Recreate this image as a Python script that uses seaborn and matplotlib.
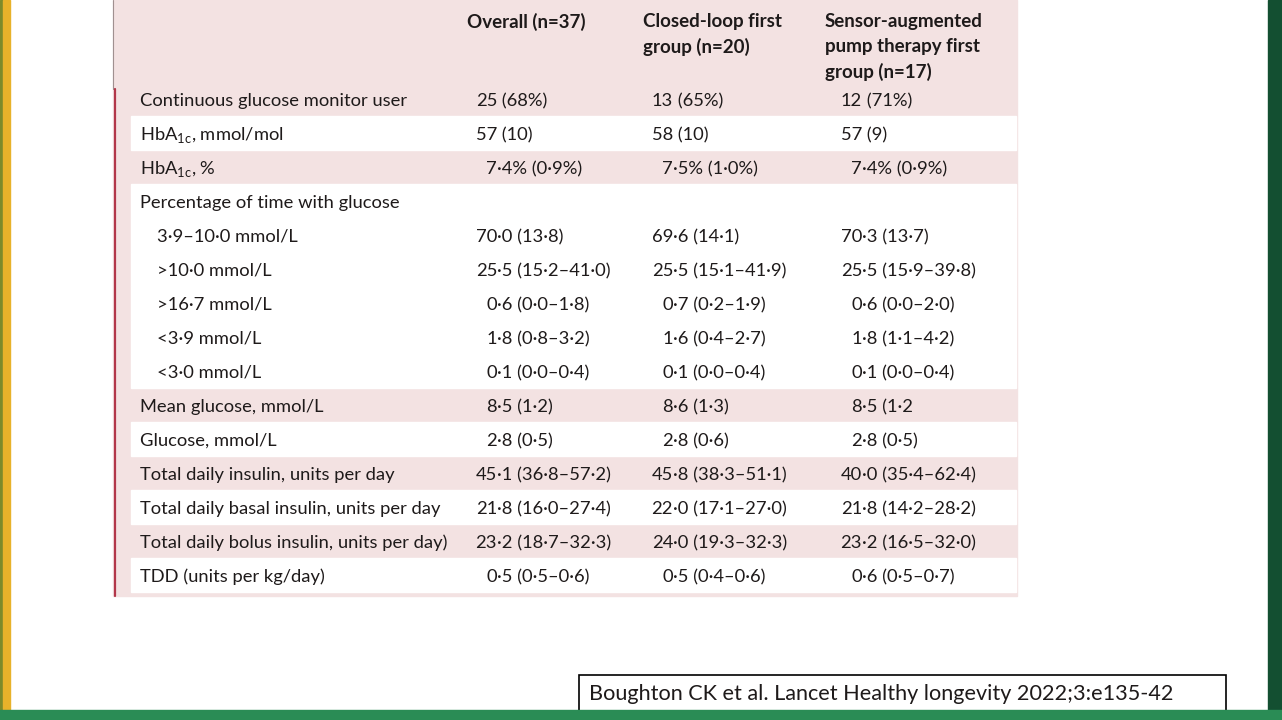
import re

import matplotlib.pyplot as plt
import seaborn as sns
from matplotlib.patches import Rectangle

# Table data (Boughton CK et al. baseline characteristics)
col_headers = ["Overall (n=37)",
               "Closed-loop first\ngroup (n=20)",
               "Sensor-augmented\npump therapy first\ngroup (n=17)"]

row_labels = ["Continuous glucose monitor user",
              "HbA$_\\mathregular{1c}$, mmol/mol",
              "HbA$_\\mathregular{1c}$, %",
              "Percentage of time with glucose",
              "3·9–10·0 mmol/L",
              ">10·0 mmol/L",
              ">16·7 mmol/L",
              "<3·9 mmol/L",
              "<3·0 mmol/L",
              "Mean glucose, mmol/L",
              "Glucose, mmol/L",
              "Total daily insulin, units per day",
              "Total daily basal insulin, units per day",
              "Total daily bolus insulin, units per day)",
              "TDD (units per kg/day)"]

sub_rows = ["3·9–10·0 mmol/L", ">10·0 mmol/L", ">16·7 mmol/L",
            "<3·9 mmol/L", "<3·0 mmol/L"]

overall = ["25 (68%)", "57 (10)", "7·4% (0·9%)", "",
           "70·0 (13·8)", "25·5 (15·2–41·0)", "0·6 (0·0–1·8)",
           "1·8 (0·8–3·2)", "0·1 (0·0–0·4)", "8·5 (1·2)", "2·8 (0·5)",
           "45·1 (36·8–57·2)", "21·8 (16·0–27·4)", "23·2 (18·7–32·3)",
           "0·5 (0·5–0·6)"]

closed_loop = ["13 (65%)", "58 (10)", "7·5% (1·0%)", "",
               "69·6 (14·1)", "25·5 (15·1–41·9)", "0·7 (0·2–1·9)",
               "1·6 (0·4–2·7)", "0·1 (0·0–0·4)", "8·6 (1·3)", "2·8 (0·6)",
               "45·8 (38·3–51·1)", "22·0 (17·1–27·0)", "24·0 (19·3–32·3)",
               "0·5 (0·4–0·6)"]

sap_first = ["12 (71%)", "57 (9)", "7·4% (0·9%)", "",
             "70·3 (13·7)", "25·5 (15·9–39·8)", "0·6 (0·0–2·0)",
             "1·8 (1·1–4·2)", "0·1 (0·0–0·4)", "8·5 (1·2", "2·8 (0·5)",
             "40·0 (35·4–62·4)", "21·8 (14·2–28·2)", "23·2 (16·5–32·0)",
             "0·6 (0·5–0·7)"]

# True = pink band, False = white band
shaded = [True, False, True, False, False, False, False, False, False,
          True, False, True, False, True, False]

citation = "Boughton CK et al. Lancet Healthy longevity 2022;3:e135-42"

sns.set_theme(style="white")
plt.rcParams['font.family'] = ['Lato', 'DejaVu Sans']

PINK = "#f3e2e2"
TXT = "#1e1a1a"

fig = plt.figure(figsize=(12.82, 7.2), dpi=100)
ax = fig.add_axes([0, 0, 1, 1])
ax.set_xlim(0, 1282)
ax.set_ylim(720, 0)
ax.axis('off')

# slide decoration
ax.add_patch(Rectangle((0, 0), 3, 720, color="#7d8a2a", zorder=0))
ax.add_patch(Rectangle((3, 0), 7, 720, color="#e8b22a", zorder=0))
ax.add_patch(Rectangle((1268, 0), 14, 720, color="#134f31", zorder=0))
ax.add_patch(Rectangle((0, 710), 1282, 10, color="#2a8c55", zorder=5))

# table background
top, row_h, x0, x1 = 82, 34, 113, 1017
n = len(row_labels)
ax.add_patch(Rectangle((x0, 0), x1 - x0, top + n * row_h + 4, color=PINK, zorder=1))
ax.plot([113, 113], [0, 89], color="#a09090", lw=0.8, zorder=3)
ax.plot([114.5, 114.5], [89, top + n * row_h + 4], color="#b2374a", lw=1.6, zorder=3)

centers = [top + row_h * (i + 0.5) for i in range(n)]
white_y = [c for c, s in zip(centers, shaded) if not s]
ax.barh(white_y, 885, left=131, height=row_h, color="white", zorder=2)

fs = 13.2
dy = 2
for y, lab in zip(centers, row_labels):
    x = 157 if lab in sub_rows else 140
    ax.text(x, y + dy, lab, fontsize=fs, color=TXT, va='center', ha='left', zorder=4)

# values aligned on the units digit of the leading number
anchors = [497, 673, 862]
for anchor, col in zip(anchors, [overall, closed_loop, sap_first]):
    for y, val in zip(centers, col):
        if not val:
            continue
        m = re.match(r"(\d+)(.*)", val)
        ax.text(anchor, y + dy, m.group(1), fontsize=fs, color=TXT,
                va='center', ha='right', zorder=4)
        ax.text(anchor, y + dy, m.group(2), fontsize=fs, color=TXT,
                va='center', ha='left', zorder=4)

for x, h in zip([467, 643, 825], col_headers):
    ax.text(x, 12.5, h, fontsize=13.5, fontweight='bold', color=TXT,
            va='top', ha='left', linespacing=1.58, zorder=4)

# citation box
ax.add_patch(Rectangle((578.5, 674.5), 647, 40, fill=False, ec="black", lw=1.2, zorder=4))
ax.text(589, 694, citation, fontsize=15.6, color=TXT, va='center', ha='left', zorder=4)

fig.savefig("out.png", dpi=100)
